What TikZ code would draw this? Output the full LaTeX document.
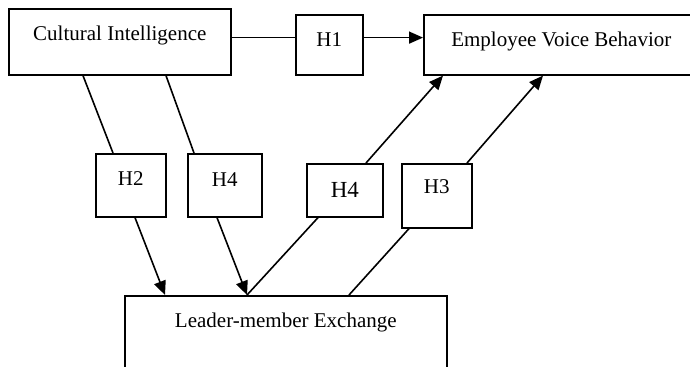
\documentclass[tikz,border=0pt]{standalone}
\usepackage{fontspec}
\setmainfont{Liberation Serif}
\usepackage{tikz}
\usetikzlibrary{arrows.meta, positioning}

\begin{document}
\begin{tikzpicture}[x=0.5pt, y=-0.5pt,
    hbox/.style={draw, line width=0.8pt, anchor=north west, inner xsep=0pt, inner ysep=0pt, font=\fontsize{10.5}{12}\selectfont},
    link/.style={line width=0.8pt},
    arr/.style={line width=0.8pt, -{Triangle[length=7pt, width=6pt]}}]
    \useasboundingbox (0,0) rectangle (690,366);
    \clip (0,0) rectangle (690,366);

    % top row
    \node[hbox, minimum width=111pt, text height=16pt, text depth=17pt] (CI) at (8,8) {Cultural Intelligence};
    \node[hbox, minimum width=33.5pt, text height=16pt, text depth=14pt] (H1) at (295,14) {H1};
    \node[hbox, minimum width=137.5pt, text height=16pt, text depth=14pt] (EVB) at (423,14) {Employee Voice Behavior};

    % hypotheses
    \node[hbox, minimum width=35pt, text height=16pt, text depth=15.5pt] (H2) at (95,153) {H2};
    \node[hbox, minimum width=37pt, text height=16.5pt, text depth=15pt] (H4a) at (187,153) {H4};
    \node[hbox, minimum width=38pt, text height=17pt, text depth=9.5pt, font=\fontsize{11.5}{13}\selectfont] (H4b) at (306,163) {H4};
    \node[hbox, minimum width=35pt, text height=15pt, text depth=17pt] (H3) at (401,163) {H3};

    % mediator
    \node[hbox, minimum width=161pt, text height=16pt, text depth=30pt] (LMX) at (124,295) {Leader-member Exchange};

    % H1 path
    \draw[link] ([yshift=2.2pt]CI.east) -- ([yshift=2.2pt]CI.east -| H1.west);
    \draw[arr] ([yshift=3.6pt]H1.east) -- ([yshift=3.6pt]H1.east -| EVB.west);

    % CI to LMX
    \draw[link] ([xshift=37.5pt]CI.south west) -- ([xshift=9pt]H2.north west);
    \draw[link] ([xshift=79pt]CI.south west) -- ([xshift=3.5pt]H4a.north west);
    \draw[arr] ([xshift=20pt]H2.south west) -- ([xshift=20.5pt]LMX.north west);
    \draw[arr] ([xshift=15pt]H4a.south west) -- ([xshift=61.5pt]LMX.north west);

    % LMX to EVB
    \draw[link] ([xshift=61.5pt]LMX.north west) -- ([xshift=6pt]H4b.south west);
    \draw[arr] ([xshift=30pt]H4b.north west) -- ([xshift=10pt]EVB.south west);
    \draw[link] ([xshift=112.5pt]LMX.north west) -- ([xshift=4pt]H3.south west);
    \draw[arr] ([xshift=33pt]H3.north west) -- ([xshift=60pt]EVB.south west);
\end{tikzpicture}
\end{document}
